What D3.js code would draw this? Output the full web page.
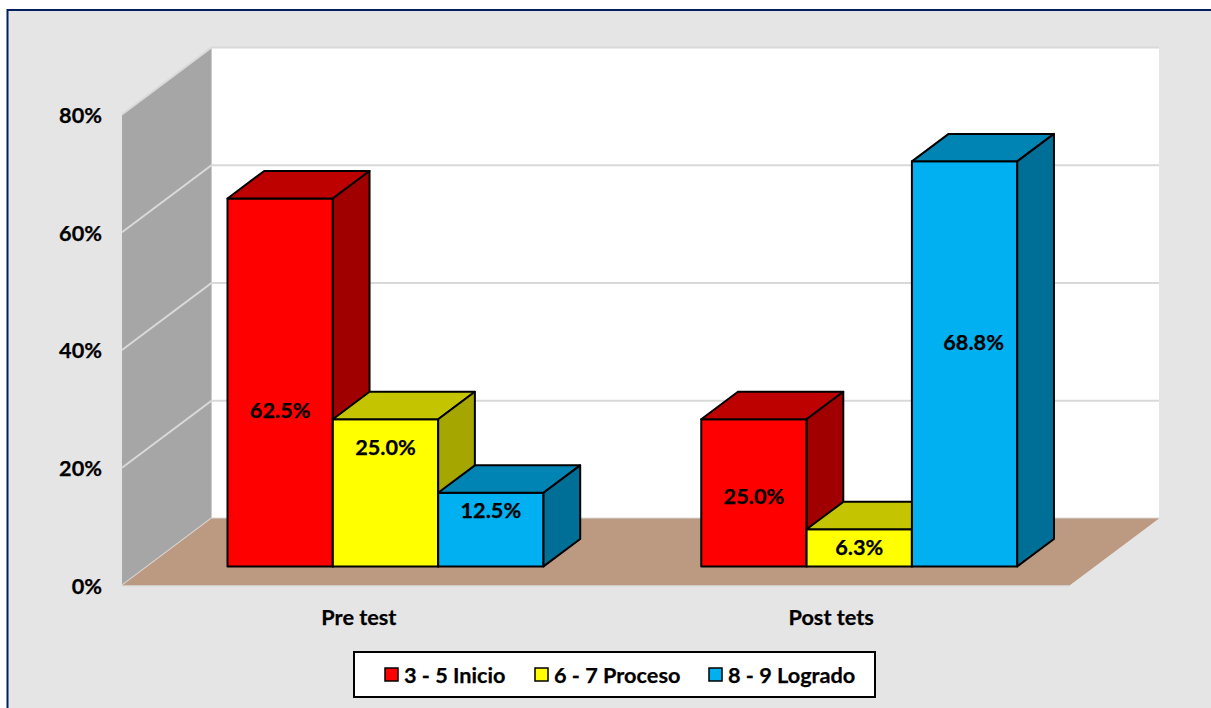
<!DOCTYPE html>
<html>
<head>
<meta charset="utf-8">
<script src="https://cdn.jsdelivr.net/npm/d3@7"></script>
<style>
  html, body { margin: 0; padding: 0; background: #fff; }
  svg { display: block; }
  text { font-family: Lato, "Open Sans", sans-serif; font-weight: 700; fill: #000; stroke: #000; stroke-width: 0.25px; }
  .axis path, .axis line { display: none; }
</style>
</head>
<body>
<div id="chart"></div>
<script>
'use strict'

// Data
const categories = ['Pre test', 'Post tets']
const seriesNames = ['3 - 5 Inicio', '6 - 7 Proceso', '8 - 9 Logrado']
const inicioValues = [0.625, 0.25]
const procesoValues = [0.25, 0.063]
const logradoValues = [0.125, 0.688]
const yTicks = [0, 0.2, 0.4, 0.6, 0.8]

const seriesValues = [inicioValues, procesoValues, logradoValues]

function draw() {
  const width = 1211
  const height = 708
  const fontSize = 21.7

  // Front edge of the 3D box
  const plot = { left: 122, right: 1069.5, top: 114.5, bottom: 585.5 }

  const colors = [
    { front: '#ff0000', top: '#bd0000', side: '#a00000' },
    { front: '#ffff00', top: '#c4c400', side: '#a6a600' },
    { front: '#00b0f0', top: '#0084b4', side: '#006f97' },
  ]
  const edge = '#d9d9d9'

  // hand placed data labels in the original, pixels from bar center
  const labelShiftY = [
    [28, 4],
    [-45, 0],
    [-19, -21],
  ]
  const labelShiftX = [
    [0, 0],
    [0, 0],
    [0, 9],
  ]

  const svg = d3
    .select('#chart')
    .append('svg')
    .attr('width', width)
    .attr('height', height)

  // Frame
  svg
    .append('rect')
    .attr('x', 7.5)
    .attr('y', 10)
    .attr('width', width + 10)
    .attr('height', height + 10)
    .attr('fill', '#e5e5e5')
    .attr('stroke', '#002060')
    .attr('stroke-width', 2)

  // Set scales
  const xScale = d3
    .scaleBand()
    .domain(categories)
    .range([plot.left, plot.right])

  const yScale = d3
    .scaleLinear()
    .domain([0, 0.8])
    .range([plot.bottom, plot.top])

  const innerScale = d3
    .scaleBand()
    .domain(seriesNames)
    .range([80, 396])

  // Depth goes 0 (front) to 1 (back wall)
  const depthX = d3.scaleLinear().domain([0, 1]).range([0, 89.5])
  const depthY = d3.scaleLinear().domain([0, 1]).range([0, -67])
  const barDepth = [0.285, 0.695]

  const pt = (x, y, d) => [x + depthX(d), y + depthY(d)]
  const poly = (g, points, fill, stroke, strokeWidth) =>
    g
      .append('polygon')
      .attr('points', points.map((p) => p.join(',')).join(' '))
      .attr('fill', fill)
      .attr('stroke', stroke || 'none')
      .attr('stroke-width', strokeWidth || 0)
      .attr('stroke-linejoin', 'round')

  // Walls and floor
  const box = svg.append('g')
  const y0 = yScale(0)
  const yMax = yScale(0.8)

  poly(
    box,
    [pt(plot.left, yMax, 1), pt(plot.right, yMax, 1), pt(plot.right, y0, 1), pt(plot.left, y0, 1)],
    '#ffffff'
  )
  poly(
    box,
    [pt(plot.left, yMax, 0), pt(plot.left, yMax, 1), pt(plot.left, y0, 1), pt(plot.left, y0, 0)],
    '#a6a6a6'
  )

  yTicks.forEach((t) => {
    box
      .append('polyline')
      .attr(
        'points',
        [pt(plot.left, yScale(t), 0), pt(plot.left, yScale(t), 1), pt(plot.right, yScale(t), 1)]
          .map((p) => p.join(','))
          .join(' ')
      )
      .attr('fill', 'none')
      .attr('stroke', edge)
      .attr('stroke-width', 2)
  })

  poly(
    box,
    [pt(plot.left, y0, 0), pt(plot.left, y0, 1), pt(plot.right, y0, 1), pt(plot.right, y0, 0)],
    '#bc9a82'
  )

  box
    .append('line')
    .attr('x1', plot.left)
    .attr('x2', plot.right)
    .attr('y1', y0 + 0.5)
    .attr('y2', y0 + 0.5)
    .attr('stroke', edge)
    .attr('stroke-width', 1)

  // Draw bars, left to right so each front face covers the side before it
  const stroke = '#000000'
  const strokeWidth = 2

  categories.forEach((category, c) => {
    seriesNames.forEach((name, s) => {
      const value = seriesValues[s][c]
      const x0 = xScale(category) + innerScale(name)
      const x1 = x0 + innerScale.bandwidth()
      const yb = yScale(0)
      const yt = yScale(value)
      const [dn, df] = barDepth
      const g = svg.append('g').attr('class', 'bar')

      // front face
      poly(g, [pt(x0, yt, dn), pt(x1, yt, dn), pt(x1, yb, dn), pt(x0, yb, dn)], colors[s].front, stroke, strokeWidth)
      // top
      poly(g, [pt(x0, yt, dn), pt(x0, yt, df), pt(x1, yt, df), pt(x1, yt, dn)], colors[s].top, stroke, strokeWidth)
      // side
      poly(g, [pt(x1, yt, dn), pt(x1, yt, df), pt(x1, yb, df), pt(x1, yb, dn)], colors[s].side, stroke, strokeWidth)
    })
  })

  // Data labels go on top of every bar
  categories.forEach((category, c) => {
    seriesNames.forEach((name, s) => {
      const value = seriesValues[s][c]
      const x0 = xScale(category) + innerScale(name)
      const [fx, ty] = pt(x0, yScale(value), barDepth[0])
      const [, by] = pt(x0, yScale(0), barDepth[0])
      svg
        .append('text')
        .attr('x', fx + innerScale.bandwidth() / 2 + labelShiftX[s][c])
        .attr('y', (ty + by) / 2 + labelShiftY[s][c])
        .attr('dy', '0.35em')
        .attr('text-anchor', 'middle')
        .attr('font-size', fontSize)
        .text(d3.format('.1%')(value))
    })
  })

  // Draw Y axis
  const yAxis = d3
    .axisLeft(yScale)
    .tickValues(yTicks)
    .tickSize(0)
    .tickFormat(d3.format('.0%'))

  svg
    .append('g')
    .attr('class', 'axis')
    .attr('transform', 'translate(102, 1)')
    .call(yAxis)
    .call((g) => g.selectAll('text').attr('x', 0).attr('font-size', fontSize))

  // Draw X axis
  const xAxis = d3.axisBottom(xScale).tickSize(0)

  svg
    .append('g')
    .attr('class', 'axis')
    .attr('transform', `translate(0, ${plot.bottom + 32})`)
    .call(xAxis)
    .call((g) =>
      g
        .selectAll('text')
        .attr('x', (d, i) => -i * 1.5)
        .attr('y', 0)
        .attr('dy', '0.35em')
        .attr('font-size', fontSize)
    )

  // Legend
  const legend = svg.append('g')

  legend
    .append('rect')
    .attr('x', 354)
    .attr('y', 652)
    .attr('width', 521)
    .attr('height', 45)
    .attr('fill', '#ffffff')
    .attr('stroke', '#000000')
    .attr('stroke-width', 2)

  const legendX = d3.scaleOrdinal().domain(seriesNames).range([385, 535, 709])

  seriesNames.forEach((name, s) => {
    legend
      .append('rect')
      .attr('x', legendX(name))
      .attr('y', 668)
      .attr('width', 13)
      .attr('height', 13)
      .attr('fill', colors[s].front)
      .attr('stroke', '#000000')
      .attr('stroke-width', 1.5)

    legend
      .append('text')
      .attr('x', legendX(name) + 19)
      .attr('y', 675)
      .attr('dy', '0.35em')
      .attr('font-size', fontSize)
      .text(name)
  })
}

draw()
</script>
</body>
</html>
